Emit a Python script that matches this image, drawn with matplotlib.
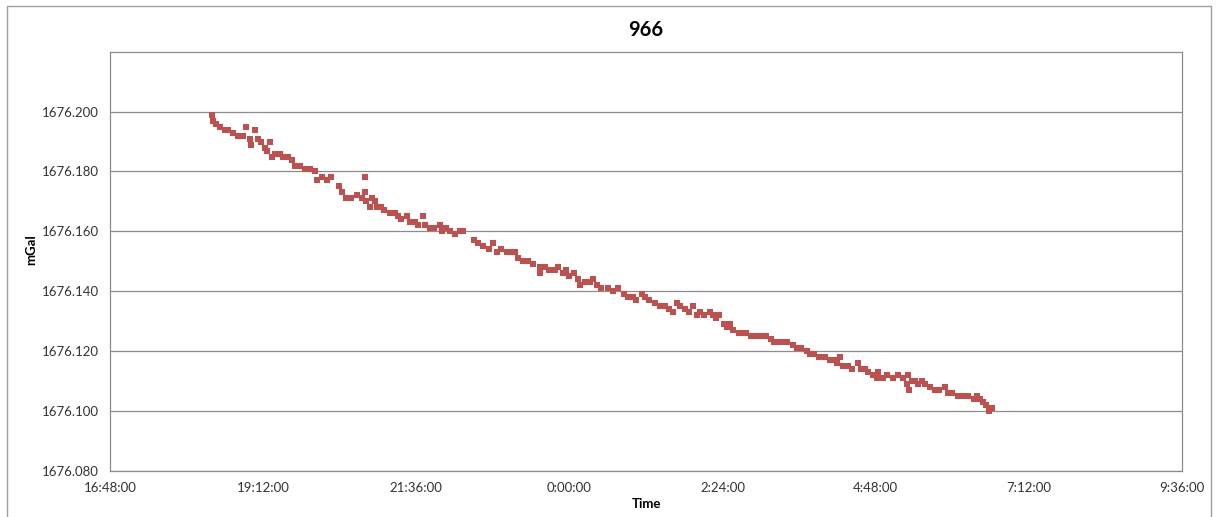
import numpy as np, matplotlib.pyplot as plt
from matplotlib.patches import Rectangle

# readings taken off the chart: clock time and gravity reading (mGal)
times = ["18:24","18:25","18:28","18:31","18:36","18:39","18:44","18:48","18:53","18:56",
         "19:00","19:01","19:04","19:07","19:10","19:14","19:16","19:18","19:20","19:23",
         "19:28","19:31","19:35","19:39","19:42","19:47","19:51","19:56","20:01","20:03",
         "20:07","20:12","20:16","20:23","20:26","20:30","20:35","20:40","20:45","20:48",
         "20:48","20:49","20:52","20:54","20:57","20:59","21:03","21:06","21:11","21:16",
         "21:19","21:22","21:27","21:30","21:35","21:38","21:42","21:44","21:49","21:53",
         "21:58","22:00","22:04","22:08","22:12","22:17","22:20","22:30","22:34","22:39",
         "22:44","22:48","22:52","22:56","23:01","23:05","23:09","23:12","23:16","23:21",
         "23:26","23:32","23:32","23:37","23:41","23:46","23:49","23:54","23:57","0:00",
         "0:04","0:08","0:10","0:15","0:19","0:22","0:26","0:30","0:36","0:41",
         "0:46","0:51","0:55","1:00","1:03","1:08","1:11","1:15","1:20","1:25",
         "1:30","1:34","1:37","1:41","1:44","1:49","1:52","1:56","2:00","2:03",
         "2:07","2:12","2:15","2:18","2:21","2:25","2:28","2:31","2:34","2:39",
         "2:42","2:46","2:51","2:56","3:00","3:05","3:10","3:12","3:16","3:21",
         "3:25","3:30","3:34","3:38","3:43","3:46","3:50","3:55","4:00","4:05",
         "4:10","4:12","4:14","4:17","4:22","4:26","4:31","4:34","4:38","4:41",
         "4:45","4:49","4:50","4:55","4:59","5:04","5:09","5:14","5:17","5:18",
         "5:19","5:22","5:25","5:28","5:32","5:34","5:39","5:44","5:48","5:53",
         "5:56","6:00","6:05","6:10","6:15","6:20","6:23","6:26","6:29","6:32",
         "6:35","6:37"]
mgal = [1676.199,1676.197,1676.196,1676.195,1676.194,1676.194,1676.193,1676.192,1676.192,1676.195,
        1676.191,1676.189,1676.194,1676.191,1676.190,1676.188,1676.187,1676.190,1676.185,1676.186,
        1676.186,1676.185,1676.185,1676.184,1676.182,1676.182,1676.181,1676.181,1676.180,1676.177,
        1676.178,1676.177,1676.178,1676.175,1676.173,1676.171,1676.171,1676.172,1676.171,1676.178,
        1676.173,1676.170,1676.168,1676.171,1676.170,1676.168,1676.168,1676.167,1676.166,1676.166,
        1676.165,1676.164,1676.165,1676.163,1676.163,1676.162,1676.165,1676.162,1676.161,1676.161,
        1676.162,1676.160,1676.161,1676.160,1676.159,1676.160,1676.160,1676.157,1676.156,1676.155,
        1676.154,1676.156,1676.153,1676.154,1676.153,1676.153,1676.153,1676.151,1676.150,1676.150,
        1676.149,1676.146,1676.148,1676.148,1676.147,1676.147,1676.148,1676.146,1676.147,1676.145,
        1676.146,1676.144,1676.142,1676.143,1676.143,1676.144,1676.142,1676.141,1676.141,1676.140,
        1676.141,1676.139,1676.138,1676.138,1676.137,1676.139,1676.138,1676.137,1676.136,1676.135,
        1676.135,1676.134,1676.133,1676.136,1676.135,1676.134,1676.133,1676.135,1676.132,1676.133,
        1676.132,1676.133,1676.132,1676.131,1676.132,1676.129,1676.128,1676.129,1676.127,1676.126,
        1676.126,1676.126,1676.125,1676.125,1676.125,1676.125,1676.124,1676.123,1676.123,1676.123,
        1676.123,1676.122,1676.121,1676.121,1676.120,1676.119,1676.119,1676.118,1676.118,1676.117,
        1676.117,1676.116,1676.118,1676.115,1676.115,1676.114,1676.116,1676.114,1676.114,1676.113,
        1676.112,1676.111,1676.113,1676.111,1676.112,1676.111,1676.112,1676.111,1676.109,1676.112,
        1676.107,1676.110,1676.110,1676.109,1676.110,1676.109,1676.108,1676.107,1676.107,1676.108,
        1676.106,1676.106,1676.105,1676.105,1676.105,1676.104,1676.105,1676.104,1676.103,1676.102,
        1676.100,1676.101]

def to_hours(s):
    h, m = map(int, s.split(":"))
    h = h + m/60
    return h + 24 if h < 12 else h

hrs = np.array([to_hours(t) for t in times])

plt.rcParams['font.family'] = ['Lato', 'DejaVu Sans']
fig = plt.figure(figsize=(12.16, 5.17), dpi=100)
ax = fig.add_axes([0.0905, 0.089, 0.8815, 0.811])
fig.patches.append(Rectangle((0.006, -0.01), 0.99, 0.998, transform=fig.transFigure,
                             fill=False, edgecolor='#a0a0a0', lw=1))

ax.plot(hrs, mgal, 's', color='#C0504D', ms=4.8, mew=0, zorder=3)

ax.set_xlim(16.8, 33.6)
ax.set_ylim(1676.080, 1676.220)
xt = np.arange(16.8, 33.61, 2.4)
ax.set_xticks(xt)
ax.set_xticklabels([f"{int(round(h*60))//60 % 24}:{int(round(h*60)) % 60:02d}:00" for h in xt])
yt = np.arange(1676.080, 1676.2001, 0.02)
ax.set_yticks(yt)
ax.set_yticklabels([f"{v:.3f}" for v in yt])
ax.tick_params(length=0, labelsize=9.5, colors='#333333', pad=8)
ax.grid(axis='y', color='#8c8c8c', lw=0.9)
ax.set_axisbelow(True)
for sp in ax.spines.values():
    sp.set_color('#8c8c8c'); sp.set_linewidth(0.9)

ax.set_title("966", fontsize=14.5, fontweight='bold', pad=11)
ax.set_xlabel("Time", fontsize=9.5, fontweight='bold')
ax.set_ylabel("mGal", fontsize=9.5, fontweight='bold')
ax.xaxis.set_label_coords(0.5, -0.064)
ax.yaxis.set_label_coords(-0.068, 0.527)

fig.savefig("out.png", dpi=100)
